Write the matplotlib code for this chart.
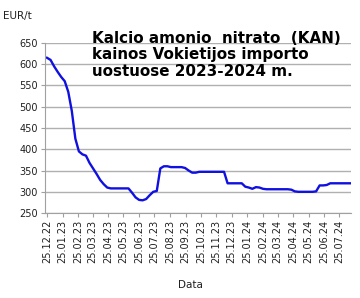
import numpy as np
import pandas as pd
import matplotlib
matplotlib.use("Agg")
import matplotlib.pyplot as plt
import matplotlib.dates as mdates

# savaitines kainos, EUR/t
start = "2022-12-25"
prices = [615, 610, 595, 582, 570, 560, 535, 490, 425, 395,
          388, 385, 368, 355, 342, 328, 318, 310, 308, 308,
          308, 308, 308, 308, 298, 287, 281, 280, 283, 292,
          300, 302, 355, 360, 360, 358, 358, 358, 358, 356,
          350, 345, 345, 347, 347, 347, 347, 347, 347, 347,
          347, 320, 320, 320, 320, 320, 312, 310, 307, 311,
          310, 307, 306, 306, 306, 306, 306, 306, 306, 305,
          301, 300, 300, 300, 300, 300, 301, 315, 315, 316,
          320, 320, 320, 320, 320, 320, 320]
dates = pd.date_range(start, periods=len(prices), freq="7D")

tick_dates = pd.date_range("2022-12-01", "2024-07-01", freq="MS") + pd.Timedelta(days=24)
y_ticks = [250, 300, 350, 400, 450, 500, 550, 600, 650]

fig = plt.figure(figsize=(3.6, 2.98), dpi=100)
ax = fig.add_axes([0.125, 0.285, 0.85, 0.571])

ax.plot(dates, prices, color="#1010e0", lw=1.7, solid_joinstyle="round")

ax.set_ylim(250, 650)
ax.set_yticks(y_ticks)
ax.set_xlim(pd.Timestamp("2022-12-21"), pd.Timestamp("2024-08-17"))
ax.set_xticks(tick_dates)
ax.xaxis.set_major_formatter(mdates.DateFormatter("%d.%m.%y"))
ax.tick_params(axis="x", labelrotation=90, labelsize=7, length=3, color="#a0a0a0", labelcolor="#202020", pad=2)
ax.tick_params(axis="y", labelsize=7, length=3, color="#a0a0a0", labelcolor="#202020", pad=2)

ax.grid(axis="y", color="#b0b0b0", lw=1)
ax.set_axisbelow(True)
for s in ["top", "right"]:
    ax.spines[s].set_visible(False)
for s in ["left", "bottom"]:
    ax.spines[s].set_color("#a0a0a0")

fig.text(0.008, 0.945, "EUR/t", fontsize=7.5, color="#202020", va="center")
fig.text(0.255, 0.897, "Kalcio amonio  nitrato  (KAN)\nkainos Vokietijos importo\nuostuose 2023-2024 m.",
         fontsize=10.9, fontweight="bold", va="top", linespacing=1.13)
fig.text(0.53, 0.045, "Data", fontsize=7.5, color="#202020", ha="center", va="center")

fig.savefig("out.png", dpi=100, facecolor="white")
